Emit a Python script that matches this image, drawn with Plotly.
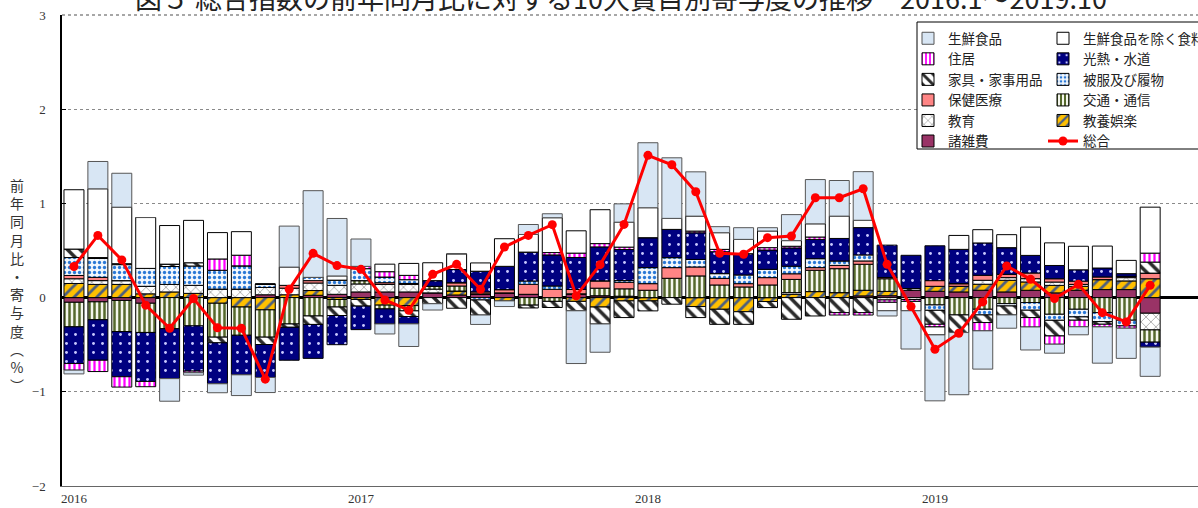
import plotly.graph_objects as go

months = ["2016.1","2016.2","2016.3","2016.4","2016.5","2016.6","2016.7","2016.8","2016.9","2016.10","2016.11","2016.12",
          "2017.1","2017.2","2017.3","2017.4","2017.5","2017.6","2017.7","2017.8","2017.9","2017.10","2017.11","2017.12",
          "2018.1","2018.2","2018.3","2018.4","2018.5","2018.6","2018.7","2018.8","2018.9","2018.10","2018.11","2018.12",
          "2019.1","2019.2","2019.3","2019.4","2019.5","2019.6","2019.7","2019.8","2019.9","2019.10"]
year_ticks = ["2016.1", "2017.1", "2018.1", "2019.1"]
year_labels = ["2016", "2017", "2018", "2019"]

# contributions (percentage points)
fresh_food = [-0.04, 0.29, 0.36, 0.0, -0.24, -0.025, -0.095, -0.22, -0.16, 0.435, 0.92, 0.61,
              0.29, -0.106, -0.24, -0.067, 0.0, -0.10, -0.06, 0.106, 0.042, -0.56, -0.30, 0.194,
              0.69, 0.643, 0.47, 0.064, 0.124, 0.035, 0.276, 0.47, 0.378, 0.516, -0.055, -0.406,
              -0.70, -0.66, -0.406, -0.141, -0.244, -0.095, -0.085, -0.385, -0.32, -0.31]
food_ex_fresh = [0.63, 0.73, 0.60, 0.54, 0.41, 0.45, 0.28, 0.25, 0.0, 0.194, 0.0, 0.045,
                 0.0, 0.08, 0.127, 0.19, 0.166, 0.088, 0.293, 0.187, 0.37, 0.237, 0.36, 0.265,
                 0.318, 0.117, 0.159, 0.177, 0.152, 0.177, 0.06, 0.14, 0.237, 0.078, -0.09, -0.10,
                 -0.085, 0.148, 0.141, 0.138, 0.30, 0.24, 0.25, 0.233, 0.141, 0.488]
housing = [-0.07, -0.12, -0.11, -0.056, 0.0, -0.018, 0.12, 0.113, 0.0, 0.0, 0.0, 0.0,
           0.025, 0.057, 0.046, 0.0, 0.0, 0.0, 0.0, 0.0, 0.025, 0.046, 0.035, 0.025,
           0.0, 0.0, 0.018, 0.025, 0.0, 0.025, 0.018, 0.025, -0.025, -0.025, -0.025, -0.02,
           -0.028, 0.0, -0.088, 0.0, -0.10, -0.088, -0.07, -0.028, -0.025, 0.095]
fuel_water = [-0.39, -0.43, -0.48, -0.52, -0.53, -0.48, -0.435, -0.42, -0.35, -0.35, -0.36, -0.31,
              -0.25, -0.16, -0.078, 0.06, 0.14, 0.22, 0.247, 0.307, 0.33, 0.34, 0.36, 0.33,
              0.318, 0.30, 0.283, 0.233, 0.226, 0.205, 0.194, 0.205, 0.24, 0.29, 0.343, 0.353,
              0.37, 0.364, 0.343, 0.283, 0.187, 0.141, 0.12, 0.095, 0.028, -0.053]
furniture = [0.09, 0.01, 0.01, 0.0, 0.025, 0.035, -0.06, 0.0, -0.078, -0.035, -0.09, -0.09,
             -0.07, 0.0, -0.06, -0.065, -0.113, -0.16, 0.0, -0.03, -0.065, -0.10, -0.18, -0.177,
             -0.106, -0.07, -0.117, -0.16, -0.134, -0.064, -0.23, -0.195, -0.16, -0.16, 0.0, 0.018,
             -0.148, -0.187, -0.081, -0.095, -0.078, -0.166, -0.035, -0.028, 0.0, 0.117]
clothing = [0.19, 0.20, 0.17, 0.19, 0.19, 0.205, 0.20, 0.247, 0.035, 0.0, 0.035, 0.055,
            0.127, 0.06, 0.04, 0.0, 0.0, -0.025, 0.0, 0.035, 0.035, 0.0, 0.0, 0.018,
            0.17, 0.106, 0.08, 0.05, 0.092, 0.088, 0.08, 0.095, 0.046, 0.064, 0.0, 0.0,
            -0.057, 0.0, -0.06, -0.025, -0.081, -0.064, -0.081, -0.095, -0.06, 0.0]
medical = [0.035, 0.035, 0.0, 0.0, 0.0, 0.0, 0.0, 0.0, 0.0, 0.03, 0.025, 0.0,
           0.0, 0.018, 0.01, 0.0, 0.035, 0.02, 0.035, 0.106, 0.088, 0.046, 0.078, 0.07,
           0.07, 0.113, 0.095, 0.07, 0.035, 0.078, 0.06, 0.028, 0.035, 0.035, 0.014, 0.0,
           0.06, 0.028, 0.053, 0.035, 0.06, 0.035, 0.035, 0.028, 0.014, 0.06]
transport = [-0.26, -0.19, -0.33, -0.31, -0.33, -0.30, -0.36, -0.30, -0.29, -0.28, -0.195, -0.08,
             0.035, -0.04, -0.056, 0.03, 0.053, 0.0, 0.0, -0.08, -0.04, 0.0, 0.08, 0.078,
             0.078, 0.205, 0.23, 0.134, 0.113, 0.134, 0.14, 0.226, 0.254, 0.276, 0.134, 0.0,
             -0.078, -0.184, -0.124, -0.064, -0.053, -0.177, -0.124, -0.16, -0.24, -0.13]
education = [0.05, 0.04, 0.04, 0.08, 0.08, 0.085, 0.09, 0.09, 0.078, 0.07, 0.08, 0.095,
             0.085, 0.08, 0.08, 0.04, 0.0, 0.0, 0.0, 0.0, 0.0, 0.0, 0.0, 0.0,
             0.0, 0.0, 0.0, 0.0, 0.0, 0.0, 0.018, 0.0, 0.0, 0.0, -0.025, -0.02,
             0.0, 0.0, 0.042, 0.028, 0.035, 0.035, 0.02, 0.0, 0.035, -0.177]
recreation = [0.15, 0.14, 0.14, 0.04, 0.06, 0.045, -0.06, -0.10, -0.13, 0.03, 0.05, -0.02,
              -0.02, -0.08, -0.085, 0.0, 0.042, 0.0, -0.035, 0.0, 0.0, -0.04, -0.10, -0.035,
              -0.035, 0.0, -0.095, -0.124, -0.15, -0.042, 0.035, 0.064, 0.053, 0.06, 0.046, 0.0,
              0.053, 0.06, 0.064, 0.124, 0.088, 0.08, 0.042, 0.106, 0.092, 0.20]
misc = [-0.05, -0.045, -0.03, -0.06, 0.0, 0.0, 0.0, 0.0, 0.03, 0.0, 0.025, 0.035,
        0.06, 0.06, 0.06, 0.05, 0.028, 0.04, 0.05, 0.035, 0.0, 0.04, 0.02, 0.015,
        0.0, 0.0, 0.0, 0.0, 0.0, 0.0, 0.0, 0.0, 0.0, 0.018, 0.02, 0.078,
        0.067, 0.06, 0.078, 0.06, 0.078, 0.05, 0.078, 0.085, 0.085, -0.166]
total = [0.33, 0.66, 0.40, -0.08, -0.325, -0.01, -0.32, -0.325, -0.866, 0.088, 0.47, 0.34,
         0.30, -0.025, -0.134, 0.247, 0.353, 0.088, 0.537, 0.66, 0.774, 0.018, 0.35, 0.777,
         1.51, 1.41, 1.124, 0.47, 0.46, 0.636, 0.654, 1.06, 1.06, 1.155, 0.353, -0.095,
         -0.548, -0.378, -0.046, 0.335, 0.194, -0.01, 0.141, -0.16, -0.258, 0.13]

JP = "Noto Sans CJK JP"

# (name, values, fill, pattern, legend rank) -- first trace stacks closest to zero
series = [
    ("諸雑費", misc, "#993366", None, 11),
    ("教養娯楽", recreation, "#ffc000", dict(shape="/", fgcolor="#4b5e80", bgcolor="#ffc000", size=8, solidity=0.35), 10),
    ("教育", education, "white", dict(shape="x", fgcolor="#707070", bgcolor="white", size=7, solidity=0.15), 9),
    ("交通・通信", transport, "white", dict(shape="|", fgcolor="#55682c", bgcolor="#f4f6ec", size=5, solidity=0.5), 8),
    ("保健医療", medical, "#ff8585", None, 7),
    ("被服及び履物", clothing, "white", dict(shape=".", fgcolor="#2a78d6", bgcolor="#f2f7fd", size=5, solidity=0.35), 6),
    ("家具・家事用品", furniture, "white", dict(shape="\\", fgcolor="#2a2a2a", bgcolor="white", size=9, solidity=0.4), 5),
    ("光熱・水道", fuel_water, "#000080", dict(shape=".", fgcolor="#c8c8ff", bgcolor="#000080", size=9, solidity=0.08), 4),
    ("住居", housing, "white", dict(shape="|", fgcolor="#ff00ff", bgcolor="white", size=5, solidity=0.45), 3),
    ("生鮮食品を除く食料", food_ex_fresh, "white", None, 2),
    ("生鮮食品", fresh_food, "#d8e6f4", None, 1),
]
left_col = {"生鮮食品", "住居", "家具・家事用品", "保健医療", "教育", "諸雑費"}

fig = go.Figure()
for name, vals, color, pat, rank in series:
    marker = dict(color=color, line=dict(color="#555555" if name == "生鮮食品" else "black", width=1))
    if pat:
        marker["pattern"] = dict(fillmode="replace", **pat)
    fig.add_trace(go.Bar(x=months, y=vals, name=name, marker=marker, legendrank=rank,
                         legend="legend" if name in left_col else "legend2"))

fig.add_trace(go.Scatter(x=months, y=total, name="総合", mode="lines+markers",
                         line=dict(color="#ff0000", width=3),
                         marker=dict(color="#ff0000", size=9, symbol="circle"),
                         legendrank=12, legend="legend2"))

W, H = 1198, 508
L, R, T, B = 62, 0, 15, 22
pw, ph = W - L - R, H - T - B


def px_x(x):
    return (x - L) / pw


def px_y(y):
    return 1 - (y - T) / ph


LEG_FONT = dict(family=JP, size=13.5, color="#222222")

fig.update_layout(
    width=W, height=H,
    margin=dict(l=L, r=R, t=T, b=B, autoexpand=False),
    paper_bgcolor="white", plot_bgcolor="white",
    barmode="relative", bargap=0.165,
    showlegend=True,
    legend=dict(x=px_x(908), y=px_y(23), xanchor="left", yanchor="top", orientation="v",
                bgcolor="rgba(0,0,0,0)", borderwidth=0, tracegroupgap=0,
                font=LEG_FONT, itemwidth=30),
    legend2=dict(x=px_x(1043), y=px_y(23), xanchor="left", yanchor="top", orientation="v",
                 bgcolor="rgba(0,0,0,0)", borderwidth=0, tracegroupgap=0,
                 font=LEG_FONT, itemwidth=30),
    xaxis=dict(type="category", range=[-0.5, 47.0], tickmode="array",
               tickvals=year_ticks, ticktext=year_labels, ticks="", showgrid=False,
               showline=True, linecolor="#666666", linewidth=1,
               tickfont=dict(family="Liberation Serif", size=13, color="#333333")),
    yaxis=dict(range=[-2, 3], dtick=1, tick0=0, ticks="inside", ticklen=4, tickcolor="black",
               showline=True, linecolor="black", linewidth=1.5,
               showgrid=True, gridcolor="#8a8a8a", griddash="dot", gridwidth=1,
               zeroline=True, zerolinecolor="black", zerolinewidth=3,
               ticklabelstandoff=12,
               tickfont=dict(family="Liberation Serif", size=13, color="#333333")),
    shapes=[
        dict(type="line", xref="paper", yref="paper", x0=0, x1=1, y0=1, y1=1,
             line=dict(color="#8a8a8a", width=1.5, dash="dot"), layer="below"),
        dict(type="rect", xref="paper", yref="paper", x0=px_x(917), x1=px_x(1210),
             y0=px_y(149), y1=px_y(22), fillcolor="white",
             line=dict(color="black", width=1), layer="above"),
    ],
    annotations=[
        dict(text="図５ 総合指数の前年同月比に対する10大費目別寄与度の推移　2016.1～2019.10",
             xref="paper", yref="paper", x=px_x(621), y=px_y(19), xanchor="center", yanchor="bottom",
             showarrow=False, font=dict(family=JP, size=27, color="#222222")),
        dict(text="<br>".join(list("前年同月比・寄与度") + ["︵", "%", "︶"]),
             xref="paper", yref="paper", x=px_x(17), y=px_y(285), xanchor="center", yanchor="middle",
             showarrow=False, font=dict(family=JP, size=14, color="#333333")),
    ],
)

fig.write_html("out.html", config={"displayModeBar": False},
               post_script="document.body.style.margin='0';document.body.style.overflow='hidden';")
